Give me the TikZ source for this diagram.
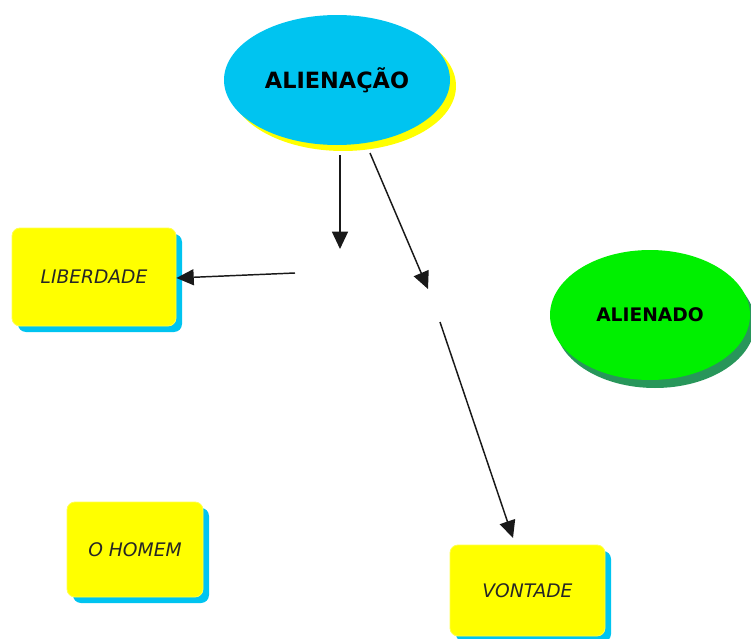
\documentclass[tikz,border=0pt]{standalone}
\usepackage{fontspec}
\setmainfont{DejaVu Sans}
\usetikzlibrary{shapes.geometric,arrows.meta}
\definecolor{skyblue}{RGB}{0,196,240}
\definecolor{lemon}{RGB}{255,255,0}
\definecolor{lime}{RGB}{0,240,0}
\definecolor{seagreen}{RGB}{40,150,90}
\tikzset{
  concept/.style={ellipse, inner sep=0pt, text=black, font=\bfseries},
  card/.style={rectangle, rounded corners=6pt, fill=lemon, draw=lemon!70!white,
    line width=0.6pt, inner sep=0pt, font=\itshape\fontsize{14}{16}\selectfont, text=black!85},
  link/.style={line width=1.1pt, draw=black!90,
    -{Triangle[length=13pt,width=12pt]}},
}
\begin{document}
\begin{tikzpicture}[x=0.75pt,y=-0.75pt]
\useasboundingbox (0,0) rectangle (751,639);

% central concept with its yellow shadow
\fill[lemon] (343,86) ellipse [x radius=113, y radius=65];
\node[concept, fill=skyblue, minimum width=226*0.75pt, minimum height=130*0.75pt,
  font=\bfseries\fontsize{16.8}{19}\selectfont] (alien) at (337,80) {ALIENAÇÃO};

% second concept with its green shadow
\fill[seagreen] (655,323) ellipse [x radius=100, y radius=65];
\node[concept, fill=lime, minimum width=200*0.75pt, minimum height=130*0.75pt,
  font=\bfseries\fontsize{14}{16}\selectfont] (alienado) at (650,315) {ALIENADO};

% cards with their blue shadows
\fill[skyblue, rounded corners=6pt] (18,234) rectangle (182,332);
\node[card, minimum width=164*0.75pt, minimum height=98*0.75pt] (liberdade) at (94,277) {LIBERDADE};

\fill[skyblue, rounded corners=6pt] (73,508) rectangle (209,603);
\node[card, minimum width=136*0.75pt, minimum height=95*0.75pt] (homem) at (135,549.5) {O HOMEM};

\fill[skyblue, rounded corners=6pt] (456,551) rectangle (611,642);
\node[card, minimum width=155*0.75pt, minimum height=91*0.75pt] (vontade) at (527.5,590.5) {VONTADE};

% free ends of the connectors
\coordinate (s1) at (340,155);
\coordinate (e1) at (340,249);
\coordinate (s2) at (370,153);
\coordinate (e2) at (428,289);
\coordinate (s3) at (295,273);
\coordinate (s4) at (440,322);

\draw[link] (s1) -- (e1);
\draw[link] (s2) -- (e2);
\draw[link] (s3) -- (liberdade.east |- 0,278);
\draw[link] (s4) -- (513,538);
\end{tikzpicture}
\end{document}
